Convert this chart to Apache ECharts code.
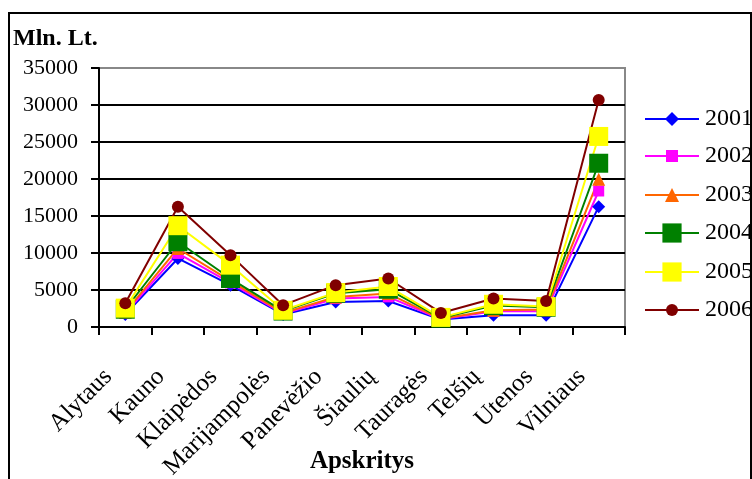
<!DOCTYPE html>
<html><head><meta charset="utf-8">
<script src="https://cdn.jsdelivr.net/npm/echarts@6/dist/echarts.min.js"></script>
<style>html,body{margin:0;padding:0;background:#fff}#c{width:752px;height:479px}</style>
</head><body><div id="c"></div>
<script>
const categories = ['Alytaus','Kauno','Klaipėdos','Marijampolės','Panevėžio','Šiaulių','Tauragės','Telšių','Utenos','Vilniaus'];
const y2001 = [1700, 9260, 5650, 1700, 3390, 3520, 1000, 1600, 1600, 16260];
const y2002 = [1850, 9940, 5960, 1800, 3840, 4070, 1050, 2120, 2120, 18380];
const y2003 = [2000, 10610, 6230, 1900, 4070, 4520, 1100, 2260, 2350, 19950];
const y2004 = [2400, 11520, 6550, 2150, 4560, 5100, 1200, 2890, 2670, 22130];
const y2005 = [2550, 13690, 8360, 2260, 4650, 5470, 1300, 3070, 2760, 25750];
const y2006 = [3200, 16260, 9710, 2950, 5650, 6550, 1900, 3840, 3520, 30670];
const yTicks = [0, 35000, 5000];
const yearNames = ['2001','2002','2003','2004','2005','2006'];

const FONT = '"Liberation Serif", "Times New Roman", serif';
const seriesDefs = [
  {name: yearNames[0], data: y2001, color: '#0000FF', symbol: 'diamond', size: 13, legendH: 17.5, legendY: 119},
  {name: yearNames[1], data: y2002, color: '#FF00FF', symbol: 'rect', size: 11, legendH: 15, legendY: 156},
  {name: yearNames[2], data: y2003, color: '#FF6600', symbol: 'triangle', size: 13, legendH: 17.5, legendY: 195},
  {name: yearNames[3], data: y2004, color: '#008000', symbol: 'rect', size: 19, legendH: 24, legendY: 233},
  {name: yearNames[4], data: y2005, color: '#FFFF00', symbol: 'rect', size: 19, legendH: 24, legendY: 272},
  {name: yearNames[5], data: y2006, color: '#800000', symbol: 'circle', size: 12, legendH: 15, legendY: 310}
];

const chart = echarts.init(document.getElementById('c'), null, {renderer: 'canvas'});
const splitColors = ['#000','#000','#000','#000','#000','#000','#000','#888'];
chart.setOption({
  animation: false,
  backgroundColor: '#fff',
  title: {text: 'Mln. Lt.', left: 13, top: 27, padding: 0,
    textStyle: {fontFamily: FONT, fontWeight: 'bold', fontSize: 24, color: '#000'}},
  grid: {left: 99, right: 127, top: 68, bottom: 152, show: true, borderColor: '#888', borderWidth: 2,
    backgroundColor: 'transparent', containLabel: false, outerBoundsMode: 'none'},
  legend: seriesDefs.map(s => ({
    data: [s.name], orient: 'vertical', left: 644, top: s.legendY - 12, padding: 0,
    itemWidth: 54, itemHeight: s.legendH, itemGap: 0, selectedMode: false,
    textStyle: {fontFamily: FONT, fontSize: 24, color: '#000', lineHeight: 24, padding: [0,0,0,1]}
  })),
  xAxis: {
    type: 'category', data: categories, boundaryGap: true,
    name: 'Apskritys', nameLocation: 'middle', nameGap: 122, nameMoveOverlap: false,
    nameTextStyle: {fontFamily: FONT, fontWeight: 'bold', fontSize: 25, color: '#000'},
    axisLine: {lineStyle: {color: '#000', width: 2}},
    axisTick: {show: true, alignWithLabel: false, length: 8, lineStyle: {color: '#000', width: 2}},
    axisLabel: {rotate: 45, interval: 0, margin: 29, padding: [0, 24, 0, 0],
      fontFamily: FONT, fontSize: 25, color: '#000'}
  },
  yAxis: {
    type: 'value', min: yTicks[0], max: yTicks[1], interval: yTicks[2],
    axisLine: {show: true, lineStyle: {color: '#000', width: 2}},
    axisTick: {show: true, length: 8, lineStyle: {color: '#000', width: 2}},
    axisLabel: {margin: 21, fontFamily: FONT, fontSize: 22, color: '#000', formatter: v => String(v)},
    splitLine: {show: true, lineStyle: {color: splitColors, width: 2}}
  },
  series: seriesDefs.map(s => ({
    name: s.name, type: 'line', data: s.data,
    symbol: s.symbol, symbolSize: s.size, showSymbol: true,
    lineStyle: {color: s.color, width: 2},
    itemStyle: {color: s.color},
    emphasis: {disabled: true}
  })),
  graphic: [{type: 'rect', shape: {x: 9, y: 13, width: 742, height: 480},
    style: {fill: 'none', stroke: '#000', lineWidth: 2}, silent: true, z: 100}]
});
</script></body></html>
